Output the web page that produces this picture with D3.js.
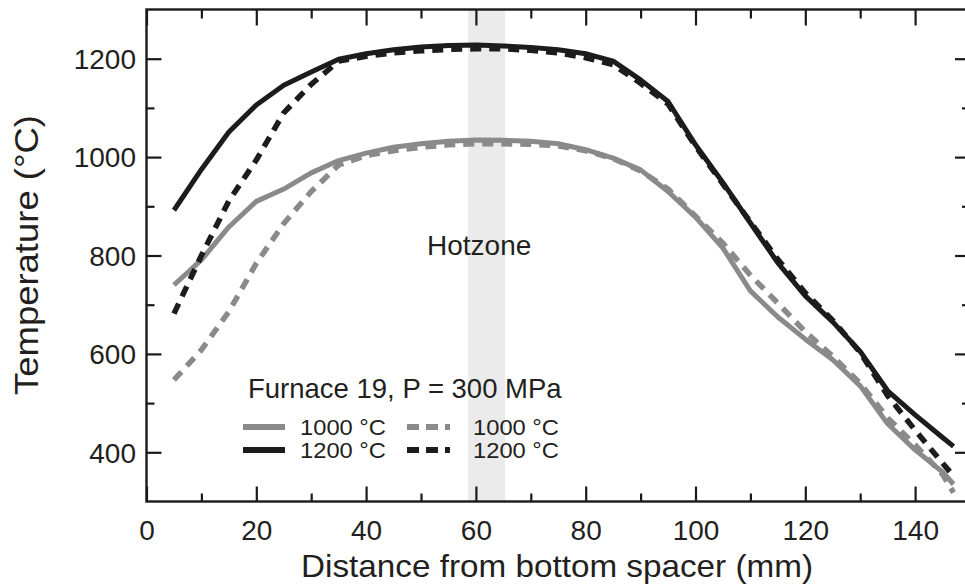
<!DOCTYPE html>
<html>
<head>
<meta charset="utf-8">
<script src="https://d3js.org/d3.v7.min.js"></script>
<style>
  html, body { margin: 0; padding: 0; background: #fff; }
  svg { display: block; font-family: "Liberation Sans", Arial, Helvetica, sans-serif; }
</style>
</head>
<body>
<svg id="chart" width="965" height="584"></svg>
<script>
// ---- data ----
const distances = [5,10,15,20,25,30,35,40,45,50,55,60,65,70,75,80,85,90,95,100,105,110,115,120,125,130,135,140,145,147];
const solid1200 = [892,975,1051,1106,1146,1173,1199,1210,1218,1224,1227,1228,1226,1223,1218,1210,1195,1157,1113,1025,948,866,785,718,665,605,525,476,430,412];
const dashed1200 = [682,800,911,994,1090,1148,1195,1205,1212,1216,1219,1220,1220,1217,1212,1202,1188,1150,1108,1022,945,868,792,724,668,603,515,445,378,352];
const solid1000 = [740,791,858,910,935,968,993,1008,1020,1027,1032,1035,1034,1032,1027,1015,998,974,930,878,815,728,675,630,588,535,458,405,360,335];
const dashed1000 = [547,608,686,784,865,930,984,1003,1013,1020,1025,1027,1027,1026,1023,1013,997,972,935,880,825,760,703,645,595,540,470,415,355,318];
const xTicks = [0,20,40,60,80,100,120,140];
const xMinorTicks = [10,30,50,70,90,110,130];
const yTicks = [400,600,800,1000,1200];
const yMinorTicks = [500,700,900,1100];
const hotzone = [58.6, 65.3];
const legendTitle = "Furnace 19, P = 300 MPa";
const legendLabels = ["1000 °C", "1200 °C"];

const series = [
  {name: "1000 solid", values: solid1000, color: "#8a8a8a", dash: null},
  {name: "1000 dashed", values: dashed1000, color: "#8a8a8a", dash: "11,8"},
  {name: "1200 solid", values: solid1200, color: "#1c1c1c", dash: null},
  {name: "1200 dashed", values: dashed1200, color: "#1c1c1c", dash: "11,8"}
];

// ---- layout ----
const L = 146.5, R = 970, T = 9.5, B = 501.5;
const svg = d3.select("#chart");
const x = d3.scaleLinear().domain([0,150]).range([L,R]);
const y = d3.scaleLinear().domain([300,1300]).range([B,T]);
const textColor = "#231f20";

// hotzone band
svg.append("rect")
  .attr("x", x(hotzone[0])).attr("y", T)
  .attr("width", x(hotzone[1]) - x(hotzone[0]))
  .attr("height", B - T)
  .attr("fill", "#ebebeb");

svg.append("text")
  .attr("x", x(60.6)).attr("y", 255)
  .attr("text-anchor", "middle")
  .attr("font-size", 28).attr("fill", textColor)
  .text("Hotzone");

// lines
const line = d3.line().x((d,i)=>x(distances[i])).y(d=>y(d));
series.forEach(s => {
  svg.append("path")
    .datum(s.values)
    .attr("d", line)
    .attr("fill", "none")
    .attr("stroke", s.color)
    .attr("stroke-width", s.dash ? 5.5 : 5)
    .attr("stroke-dasharray", s.dash)
    .attr("stroke-linejoin", "round");
});

// axes (ticks inward)
function styleAxis(g) {
  g.select(".domain").remove();
  g.selectAll(".tick line").attr("stroke", "#1a1a1a").attr("stroke-width", 2.2);
  g.selectAll(".tick text").attr("fill", textColor);
}
svg.append("g").attr("transform", `translate(0,${B})`)
  .call(d3.axisBottom(x).tickValues(xTicks).tickSize(-15).tickPadding(0).tickFormat(d3.format("d")))
  .call(styleAxis)
  .call(g => g.selectAll(".tick text").attr("font-size", 28).attr("y", 38.5).attr("dy", null));
svg.append("g").attr("transform", `translate(0,${B})`)
  .call(d3.axisBottom(x).tickValues(xMinorTicks).tickSize(-8).tickFormat(""))
  .call(styleAxis);
svg.append("g").attr("transform", `translate(0,${T})`)
  .call(d3.axisTop(x).tickValues(xTicks).tickSize(-16).tickFormat(""))
  .call(styleAxis);
svg.append("g").attr("transform", `translate(0,${T})`)
  .call(d3.axisTop(x).tickValues(xMinorTicks).tickSize(-9).tickFormat(""))
  .call(styleAxis);
svg.append("g").attr("transform", `translate(${L},0)`)
  .call(d3.axisLeft(y).tickValues(yTicks).tickSize(-15).tickPadding(0).tickFormat(d3.format("d")))
  .call(styleAxis)
  .call(g => g.selectAll(".tick text").attr("font-size", 28).attr("x", -10.5).attr("dy", "0.35em"));
svg.append("g").attr("transform", `translate(${L},0)`)
  .call(d3.axisLeft(y).tickValues(yMinorTicks).tickSize(-8).tickFormat(""))
  .call(styleAxis);
svg.append("g").attr("transform", `translate(${R},0)`)
  .call(d3.axisRight(y).tickValues(yTicks).tickSize(-15).tickFormat(""))
  .call(styleAxis);
svg.append("g").attr("transform", `translate(${R},0)`)
  .call(d3.axisRight(y).tickValues(yMinorTicks).tickSize(-8).tickFormat(""))
  .call(styleAxis);

// frame
svg.append("rect")
  .attr("x", L).attr("y", T).attr("width", R - L).attr("height", B - T)
  .attr("fill", "none").attr("stroke", "#1a1a1a").attr("stroke-width", 2.4);

// axis titles
svg.append("text")
  .attr("x", 557).attr("y", 577)
  .attr("text-anchor", "middle").attr("font-size", 32).attr("fill", textColor)
  .attr("textLength", 512).attr("lengthAdjust", "spacingAndGlyphs")
  .text("Distance from bottom spacer (mm)");
svg.append("text")
  .attr("transform", "translate(38,255) rotate(-90)")
  .attr("text-anchor", "middle").attr("font-size", 33).attr("fill", textColor)
  .attr("textLength", 280).attr("lengthAdjust", "spacingAndGlyphs")
  .text("Temperature (°C)");

// legend
const lg = svg.append("g");
lg.append("text").attr("x", 248).attr("y", 398).attr("font-size", 27.5).attr("fill", textColor).text(legendTitle);
const rowsY = [427, 450];
const cols = [{x0: 243, x1: 285, tx: 300, dash: null}, {x0: 407, x1: 450, tx: 473, dash: "12,7"}];
const colors = ["#8a8a8a", "#1c1c1c"];
cols.forEach(c => {
  rowsY.forEach((ry, i) => {
    lg.append("line").attr("x1", c.x0).attr("x2", c.x1).attr("y1", ry).attr("y2", ry)
      .attr("stroke", colors[i]).attr("stroke-width", 6).attr("stroke-dasharray", c.dash);
    lg.append("text").attr("x", c.tx).attr("y", ry + 8).attr("font-size", 22).attr("fill", textColor)
      .attr("textLength", 86).attr("lengthAdjust", "spacingAndGlyphs")
      .text(legendLabels[i]);
  });
});
</script>
</body>
</html>
